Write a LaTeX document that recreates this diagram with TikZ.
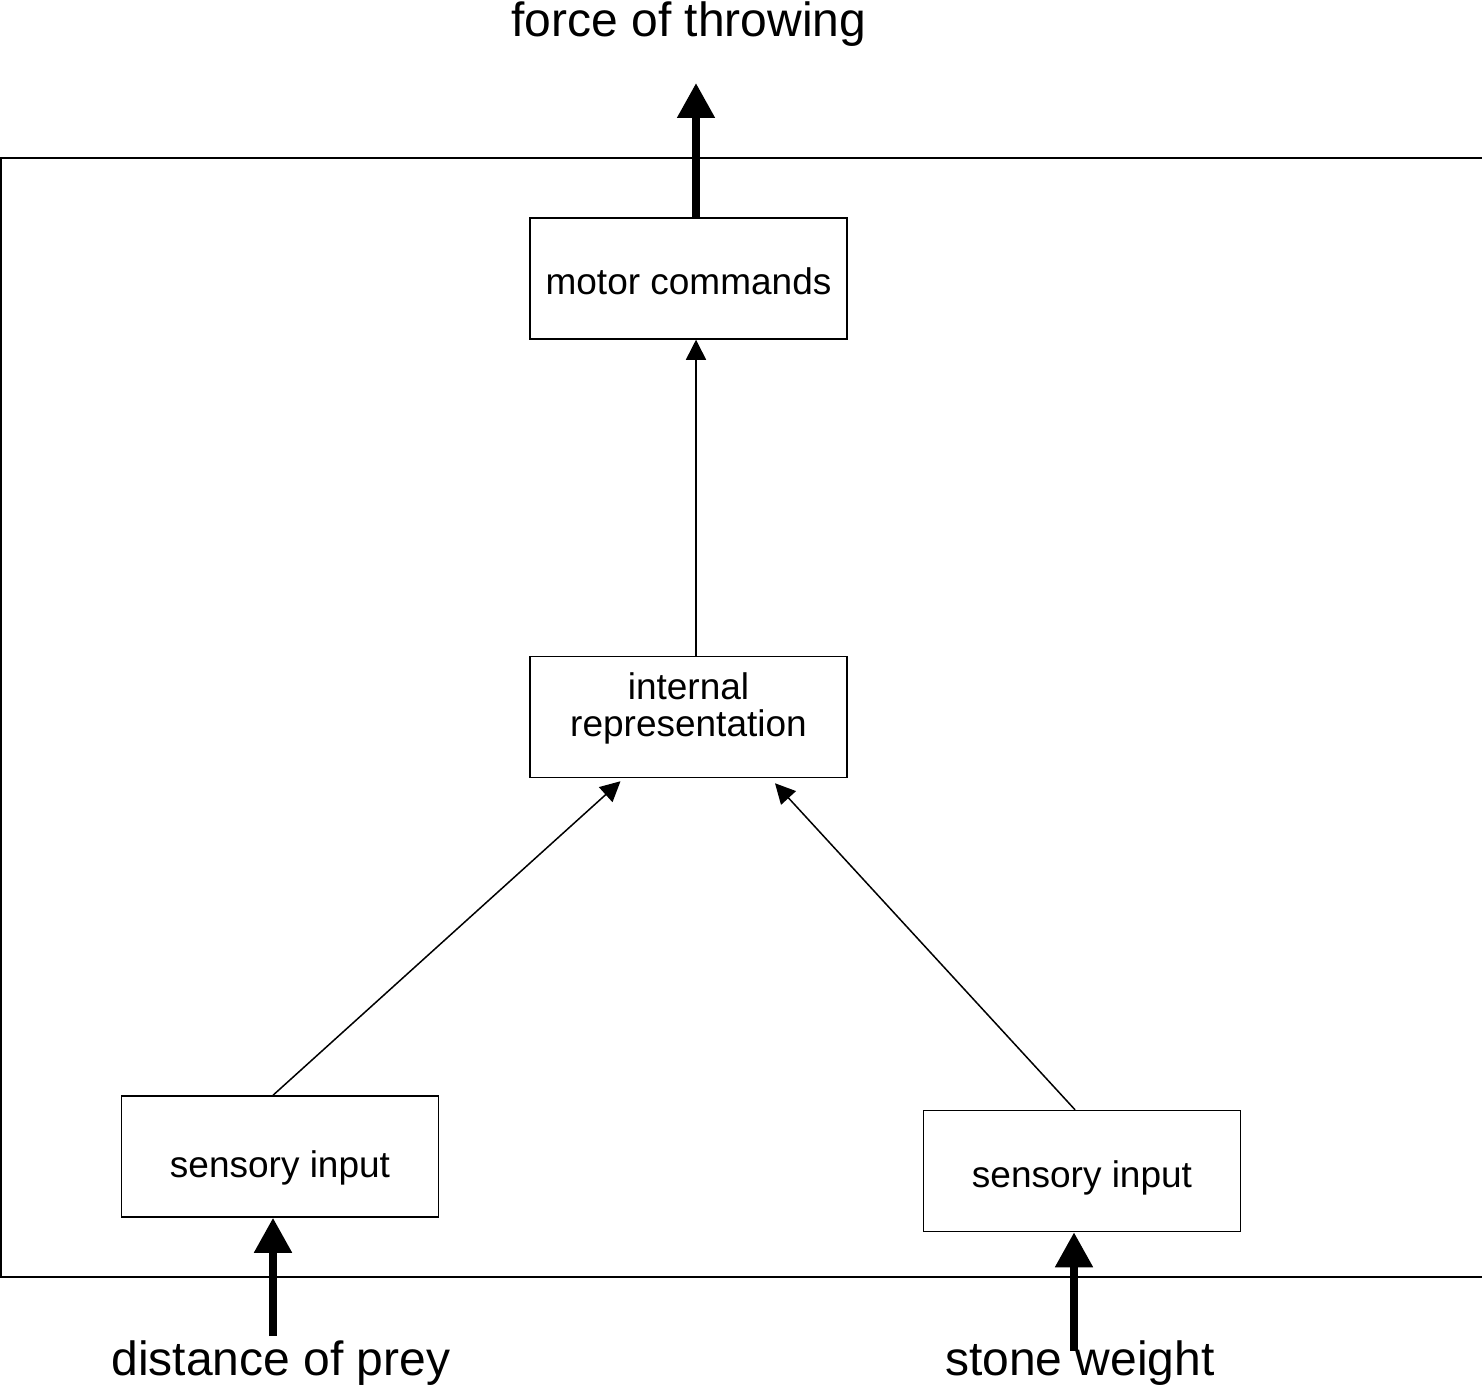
\documentclass[tikz,border=0pt]{standalone}
\usepackage{fontspec}
\setmainfont{Liberation Sans}
\usetikzlibrary{arrows.meta}
\begin{document}
\begin{tikzpicture}[x=1pt,y=-1pt,
  box/.style={draw,line width=1.5pt,minimum width=317pt,minimum height=121pt,
    inner sep=0pt,font=\fontsize{37}{36}\selectfont},
  link/.style={line width=1.5pt,-{Triangle[width=20pt,length=20pt]}},
  feed/.style={line width=8pt,-{Triangle[width=36pt,length=35pt]}},
  big/.style={font=\fontsize{48}{48}\selectfont,anchor=base,inner sep=0pt}]
\useasboundingbox (0,0) rectangle (1482,1386);

% open frame around the system
\draw[line width=1.5pt] (1482,158) -- (1,158) -- (1,1277) -- (1482,1277);

% processing stages
\node[box,text height=31pt,text depth=0pt] (motor) at (688.5,278.5) {motor commands};
\node[box,text height=0pt,text depth=0pt] (intrep) at (688.5,717)
  {\raisebox{18pt}[0pt][0pt]{\begin{tabular}[t]{@{}c@{}}internal\\representation\end{tabular}}};
\node[box,text height=41pt,text depth=0pt] (sl) at (280,1156.5) {sensory input};
\node[box,text height=32pt,text depth=0pt] (sr) at (1082,1171) {sensory input};

% external quantities
\node[big] (force) at (689,37) {force of throwing};
\node[big] (dist) at (281,1375) {distance of prey};
\node[big] (stone) at (1080,1375) {stone weight};

\coordinate (out) at (696,83);
\coordinate (inL) at (273,1336);
\coordinate (inR) at (1074,1351);

% thick input/output arrows
\draw[feed] ([xshift=7.5pt]motor.north) -- (out);
\draw[feed] (inL) -- (inL |- sl.south);
\draw[feed] (inR) -- (inR |- sr.south);

% internal connections
\draw[link] ([xshift=7.5pt]intrep.north) -- ([xshift=7.5pt]motor.south);
\draw[link] ([xshift=-7pt]sl.north) -- ([xshift=-68pt,yshift=-3pt]intrep.south);
\draw[link] ([xshift=-7pt]sr.north) -- ([xshift=86.5pt,yshift=-5pt]intrep.south);
\end{tikzpicture}
\end{document}
